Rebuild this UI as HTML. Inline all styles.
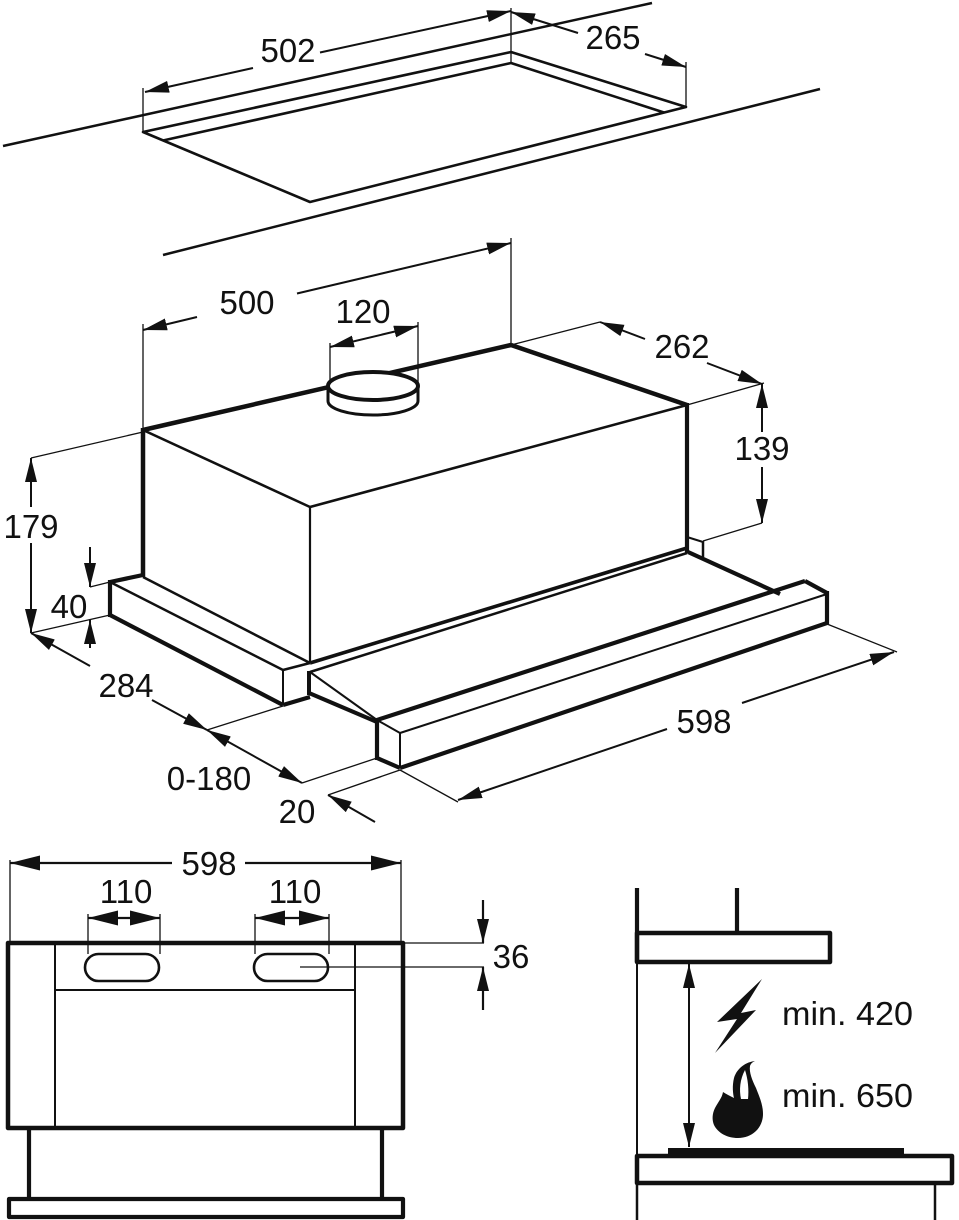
<!DOCTYPE html>
<html><head><meta charset="utf-8"><style>
html,body{margin:0;padding:0;background:#fff;}
svg{display:block;}
text{font-family:"Liberation Sans",Arial,sans-serif;font-size:33px;fill:#111;text-anchor:middle;}
</style></head><body>
<svg width="959" height="1220" viewBox="0 0 959 1220" xmlns="http://www.w3.org/2000/svg">
<defs>
<marker id="a" markerUnits="userSpaceOnUse" markerWidth="24" markerHeight="12" refX="24" refY="6" orient="auto-start-reverse" viewBox="0 0 24 12"><path d="M0,0L24,6L0,12Z" fill="#111"/></marker>
<marker id="b" markerUnits="userSpaceOnUse" markerWidth="30" markerHeight="15" refX="30" refY="7.5" orient="auto-start-reverse" viewBox="0 0 30 15"><path d="M0,0L30,7.5L0,15Z" fill="#111"/></marker>
</defs>

<g stroke="#111" fill="none" stroke-linejoin="round">
<!-- ===== TOP PANEL ===== -->
<line x1="3" y1="146" x2="652" y2="3" stroke-width="2.5"/>
<line x1="163" y1="255" x2="820" y2="89" stroke-width="2.5"/>
<polygon points="143,132 511,52 686,107 310,202" stroke-width="2.6"/>
<polyline points="163,140.5 511,63 664,112.5" stroke-width="2.6"/>
<g stroke-width="1.3">
<line x1="143" y1="88" x2="143" y2="132"/>
<line x1="511" y1="8" x2="511" y2="63"/>
<line x1="686" y1="62" x2="686" y2="107"/>
</g>
<g stroke-width="2">
<line x1="253" y1="68" x2="145" y2="92" marker-end="url(#a)"/>
<line x1="320" y1="52.5" x2="511" y2="11" marker-end="url(#a)"/>
<line x1="578" y1="33" x2="511" y2="12" marker-end="url(#a)"/>
<line x1="645" y1="54" x2="686" y2="67" marker-end="url(#a)"/>
</g>

<!-- ===== HOOD ===== -->
<g stroke-width="1.3">
<line x1="143" y1="324" x2="143" y2="430"/>
<line x1="511" y1="238" x2="511" y2="345"/>
<line x1="511" y1="345" x2="600" y2="322"/>
<line x1="687" y1="405" x2="764" y2="383"/>
<line x1="762" y1="523" x2="703" y2="541"/>
<line x1="31" y1="458" x2="143" y2="432"/>
<line x1="31" y1="633" x2="110" y2="615"/>
<line x1="90" y1="587" x2="110" y2="582"/>
<line x1="330" y1="343" x2="330" y2="386"/>
<line x1="418" y1="322" x2="418" y2="386"/>
<line x1="207" y1="730" x2="283" y2="706"/>
<line x1="302" y1="783" x2="377" y2="758"/>
<line x1="328" y1="795" x2="400" y2="770"/>
<line x1="400" y1="770" x2="458" y2="802"/>
<line x1="827" y1="624" x2="897" y2="652"/>
</g>
<g stroke-width="2">
<line x1="197" y1="317" x2="143" y2="330" marker-end="url(#a)"/>
<line x1="297" y1="293.5" x2="511" y2="243" marker-end="url(#a)"/>
<line x1="330" y1="347" x2="418" y2="326" marker-start="url(#a)" marker-end="url(#a)"/>
<line x1="645" y1="339" x2="600" y2="322" marker-end="url(#a)"/>
<line x1="707" y1="363" x2="762" y2="384" marker-end="url(#a)"/>
<line x1="762" y1="432" x2="762" y2="384" marker-end="url(#a)"/>
<line x1="762" y1="467" x2="762" y2="523" marker-end="url(#a)"/>
<line x1="31" y1="507" x2="31" y2="458" marker-end="url(#a)"/>
<line x1="31" y1="543" x2="31" y2="633" marker-end="url(#a)"/>
<line x1="90" y1="547" x2="90" y2="587" marker-end="url(#a)"/>
<line x1="90" y1="648" x2="90" y2="620" marker-end="url(#a)"/>
<line x1="90" y1="666" x2="31" y2="633" marker-end="url(#a)"/>
<line x1="152" y1="700" x2="207" y2="730" marker-end="url(#a)"/>
<line x1="207" y1="730" x2="302" y2="783" marker-start="url(#a)" marker-end="url(#a)"/>
<line x1="375" y1="822" x2="328" y2="795" marker-end="url(#a)"/>
<line x1="667" y1="729" x2="458" y2="800" marker-end="url(#a)"/>
<line x1="742" y1="703" x2="894" y2="652" marker-end="url(#a)"/>
</g>

<!-- hood body -->
<line x1="143" y1="430" x2="511" y2="345" stroke-width="4.5"/>
<line x1="511" y1="345" x2="687" y2="405" stroke-width="4.5"/>
<line x1="143" y1="430" x2="310" y2="507" stroke-width="2.6"/>
<line x1="310" y1="507" x2="687" y2="405" stroke-width="2.6"/>
<line x1="687" y1="403" x2="687" y2="553" stroke-width="4.2"/>
<line x1="143" y1="428" x2="143" y2="577" stroke-width="4.5"/>
<line x1="310" y1="507" x2="310" y2="663" stroke-width="2.2"/>
<line x1="310" y1="663" x2="687" y2="548" stroke-width="3.6"/>
<!-- duct -->
<path d="M328,386 L328,401 A45,14 0 0 0 418,401 L418,386 Z" fill="#fff" stroke-width="3"/>
<ellipse cx="373" cy="386" rx="45" ry="14" fill="#fff" stroke-width="4"/>
<!-- small right box -->
<line x1="687" y1="537" x2="703" y2="542" stroke-width="2"/>
<line x1="703" y1="541" x2="703" y2="557" stroke-width="2.5"/>

<!-- left bar -->
<line x1="110" y1="582" x2="143" y2="575" stroke-width="4.2"/>
<line x1="110" y1="580" x2="110" y2="617" stroke-width="4.2"/>
<line x1="110" y1="615" x2="283" y2="705" stroke-width="4.2"/>
<line x1="110" y1="582" x2="283" y2="670" stroke-width="2.5"/>
<line x1="143" y1="577" x2="310" y2="663" stroke-width="2.5"/>
<line x1="283" y1="670" x2="310" y2="663" stroke-width="2.5"/>
<line x1="283" y1="670" x2="283" y2="705" stroke-width="2"/>
<line x1="283" y1="705" x2="310" y2="697" stroke-width="4.2"/>

<!-- drawer -->
<line x1="309" y1="671" x2="309" y2="695" stroke-width="4"/>
<line x1="310" y1="672" x2="687" y2="553" stroke-width="2.5"/>
<line x1="310" y1="672" x2="377" y2="720" stroke-width="2"/>
<line x1="309" y1="693" x2="377" y2="722" stroke-width="4.2"/>
<line x1="688" y1="552" x2="780" y2="594" stroke-width="4.2"/>

<!-- handle -->
<line x1="377" y1="720" x2="805" y2="581" stroke-width="4.2"/>
<line x1="805" y1="581" x2="827" y2="593" stroke-width="4.2"/>
<line x1="827" y1="591" x2="827" y2="625" stroke-width="4.2"/>
<line x1="400" y1="768" x2="827" y2="623" stroke-width="4.2"/>
<line x1="400" y1="733" x2="827" y2="594" stroke-width="2"/>
<line x1="377" y1="720" x2="400" y2="733" stroke-width="2"/>
<line x1="377" y1="718" x2="377" y2="760" stroke-width="4.2"/>
<line x1="400" y1="733" x2="400" y2="768" stroke-width="2"/>
<line x1="377" y1="758" x2="400" y2="768" stroke-width="4.2"/>

<!-- ===== FRONT VIEW ===== -->
<g stroke-width="1.3">
<line x1="10" y1="860" x2="10" y2="943"/>
<line x1="401" y1="860" x2="401" y2="943"/>
<line x1="88" y1="914" x2="88" y2="954"/>
<line x1="160" y1="914" x2="160" y2="954"/>
<line x1="255" y1="914" x2="255" y2="954"/>
<line x1="329" y1="914" x2="329" y2="954"/>
<line x1="403" y1="943" x2="484" y2="943"/>
<line x1="300" y1="967" x2="484" y2="967"/>
</g>
<g stroke-width="2.2">
<line x1="172" y1="863" x2="10" y2="863" marker-end="url(#b)"/>
<line x1="245" y1="863" x2="401" y2="863" marker-end="url(#b)"/>
<line x1="88" y1="918" x2="160" y2="918" marker-start="url(#b)" marker-end="url(#b)"/>
<line x1="255" y1="918" x2="329" y2="918" marker-start="url(#b)" marker-end="url(#b)"/>
<line x1="483" y1="900" x2="483" y2="943" marker-end="url(#a)"/>
<line x1="483" y1="1010" x2="483" y2="967" marker-end="url(#a)"/>
</g>
<rect x="8" y="943" width="395" height="185" stroke-width="4.5"/>
<line x1="55" y1="943" x2="55" y2="1128" stroke-width="2"/>
<line x1="355" y1="943" x2="355" y2="1128" stroke-width="2"/>
<line x1="55" y1="990" x2="355" y2="990" stroke-width="2"/>
<rect x="85" y="954" width="74" height="27" rx="13.5" stroke-width="2.6"/>
<rect x="254" y="954" width="74" height="27" rx="13.5" stroke-width="2.6"/>
<line x1="29" y1="1128" x2="29" y2="1198" stroke-width="4.2"/>
<line x1="382" y1="1128" x2="382" y2="1198" stroke-width="4.2"/>
<rect x="9" y="1199" width="394" height="18" stroke-width="4.2"/>

<!-- ===== SIDE VIEW ===== -->
<line x1="637" y1="888" x2="637" y2="962" stroke-width="4.2"/>
<line x1="737" y1="888" x2="737" y2="933" stroke-width="4.2"/>
<rect x="637" y="933" width="193" height="29" stroke-width="4.5"/>
<line x1="637" y1="962" x2="637" y2="1155" stroke-width="2"/>
<line x1="689" y1="964" x2="689" y2="1147" stroke-width="2" marker-start="url(#a)" marker-end="url(#a)"/>
<rect x="637" y="1156" width="315" height="27" stroke-width="4.5"/>
<rect x="668" y="1148" width="236" height="9" fill="#111" stroke="none"/>
<line x1="637" y1="1183" x2="637" y2="1220" stroke-width="2.5"/>
<line x1="935" y1="1183" x2="935" y2="1220" stroke-width="2.5"/>
</g>

<!-- lightning -->
<polygon points="762,979 717,1022 737,1019 715,1053 756,1010 741,1013" fill="#111"/>
<!-- flame -->
<path d="M755,1061 C746,1062 737,1068 734,1078 C732,1086 733,1094 734,1098 C730,1096 726,1094 723,1092 C722,1098 718,1102 715,1108 C712,1114 712,1120 714,1125 C718,1133 727,1138 738,1138 C752,1138 763,1128 763,1114 C763,1104 759,1096 756,1088 C752,1080 749,1072 750,1066 C751,1063 753,1062 755,1061 Z" fill="#111"/>
<path d="M745,1070 C740,1079 739,1090 741,1099 L748,1099 C749,1090 748,1079 745,1070 Z" fill="#fff"/>

<!-- ===== LABELS ===== -->
<text x="288" y="62">502</text>
<text x="613" y="49">265</text>
<text x="247" y="314">500</text>
<text x="363" y="323">120</text>
<text x="682" y="358">262</text>
<text x="762" y="460">139</text>
<text x="31" y="538">179</text>
<text x="69" y="618">40</text>
<text x="126" y="697">284</text>
<text x="209" y="790">0-180</text>
<text x="297" y="823">20</text>
<text x="704" y="733">598</text>
<text x="209" y="875">598</text>
<text x="126" y="903">110</text>
<text x="295" y="903">110</text>
<text x="511" y="968">36</text>
<text x="782" y="1025" style="text-anchor:start" textLength="131" lengthAdjust="spacingAndGlyphs">min. 420</text>
<text x="782" y="1107" style="text-anchor:start" textLength="131" lengthAdjust="spacingAndGlyphs">min. 650</text>
</svg>
</body></html>
